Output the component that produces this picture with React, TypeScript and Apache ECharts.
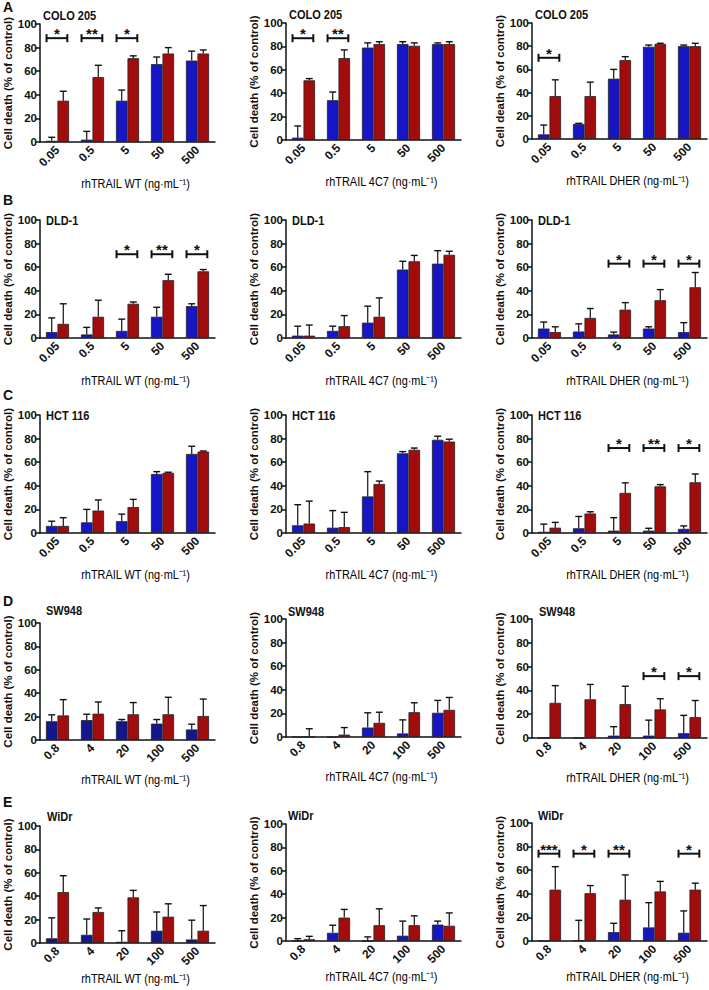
import React, { useEffect, useRef } from "react";
import * as echarts from "echarts";

// ---------- categories ----------
const catsLow = ["0.05", "0.5", "5", "50", "500"];
const catsHigh = ["0.8", "4", "20", "100", "500"];

// ---------- titles ----------
const cellLines = ["COLO 205", "DLD-1", "HCT 116", "SW948", "WiDr"];
const xNames = ["rhTRAIL WT (ng·mL⁻¹)", "rhTRAIL 4C7 (ng·mL⁻¹)", "rhTRAIL DHER (ng·mL⁻¹)"];
const rowLetters = ["A", "B", "C", "D", "E"];
const yName = "Cell death (% of control)";

// ---------- data (mean, SD) ----------
// Row A: COLO 205
const a1Blue = [1, 2, 35, 66, 69];
const a1BlueSD = [3, 7, 9, 6, 8];
const a1Red = [35, 55, 71, 75, 75];
const a1RedSD = [8, 10, 2, 5, 3];
const a2Blue = [2, 34, 79, 82, 82];
const a2BlueSD = [10, 7, 4, 2, 1];
const a2Red = [51, 70, 82, 80.5, 82];
const a2RedSD = [1.5, 7, 2, 2.5, 2];
const a3Blue = [4, 13, 52, 79.5, 80];
const a3BlueSD = [8, 0.5, 8, 1.5, 1];
const a3Red = [37, 37, 68, 82, 80];
const a3RedSD = [14, 12, 3, 0.5, 2.5];
// Row B: DLD-1
const b1Blue = [5, 3, 6, 18, 27];
const b1BlueSD = [12, 6, 10, 8, 2];
const b1Red = [12, 18, 29, 49, 56.5];
const b1RedSD = [17, 14, 1.5, 5, 1.5];
const b2Blue = [2, 6, 13, 58, 63];
const b2BlueSD = [8, 4, 14, 7, 11];
const b2Red = [2, 10, 18, 65, 70.5];
const b2RedSD = [9, 9, 16, 5, 3];
const b3Blue = [8, 5.5, 3, 8, 5];
const b3BlueSD = [5.5, 6.5, 2, 1.5, 8];
const b3Red = [5, 17, 24, 32, 43];
const b3RedSD = [4.5, 8, 6, 9, 12.5];
// Row C: HCT 116
const c1Blue = [6, 9, 10, 50, 67];
const c1BlueSD = [4, 11, 6, 2, 6.5];
const c1Red = [6, 19, 22, 51, 69];
const c1RedSD = [7, 9, 6.5, 0.5, 0.5];
const c2Blue = [6.5, 4.5, 31, 67.5, 79];
const c2BlueSD = [17.5, 14.5, 21, 1.5, 3];
const c2Red = [8, 5, 41.5, 70.5, 77.5];
const c2RedSD = [19, 12.5, 2.5, 1.5, 2];
const c3Blue = [1, 4, 2, 2, 3.5];
const c3BlueSD = [6.5, 10, 11, 2, 2.5];
const c3Red = [4.5, 16.5, 34, 39.5, 43];
const c3RedSD = [4.5, 1.5, 8.5, 1.5, 7];
// Row D: SW948
const d1Blue = [16, 17, 16, 14, 9];
const d1BlueSD = [5.5, 5, 1.5, 3.5, 4.5];
const d1Red = [21, 22.5, 22, 22, 20.5];
const d1RedSD = [13.5, 10, 10, 14.5, 14.5];
const d2Blue = [0, 0, 8, 3, 20.5];
const d2BlueSD = [0, 0, 12.5, 11.5, 10.5];
const d2Red = [0, 2, 12, 21, 23];
const d2RedSD = [7, 6, 9, 8, 10.5];
const d3Blue = [0, 0, 2, 2, 4];
const d3BlueSD = [0, 0, 7.5, 13, 15];
const d3Red = [29.5, 32.5, 28.5, 24, 17.5];
const d3RedSD = [14.5, 12.5, 15, 9, 14];
// Row E: WiDr
const e1Blue = [4, 7, 1, 10.5, 3];
const e1BlueSD = [17.5, 13.5, 9.5, 16, 16.5];
const e1Red = [43.5, 26.5, 39, 22.5, 10.5];
const e1RedSD = [14, 3.5, 6, 11, 21.5];
const e2Blue = [0, 7, 0, 4.5, 14];
const e2BlueSD = [2, 6.5, 3.5, 12.5, 3];
const e2Red = [1.5, 20, 13.5, 13.5, 13];
const e2RedSD = [2.5, 7, 14, 8, 11];
const e3Blue = [0, 0.5, 7.5, 11.5, 7];
const e3BlueSD = [0, 17, 7.5, 21, 18.5];
const e3Red = [43.5, 40.5, 35, 42, 43.5];
const e3RedSD = [19.5, 6.5, 21, 8.5, 5.5];

// ---------- significance: [category index, stars, bracket height] ----------
const a1Sig: [number, string, number][] = [[0, "*", 88], [1, "**", 88], [2, "*", 88]];
const a2Sig: [number, string, number][] = [[0, "*", 87], [1, "**", 87]];
const a3Sig: [number, string, number][] = [[0, "*", 70]];
const b1Sig: [number, string, number][] = [[2, "*", 71], [3, "**", 71], [4, "*", 71]];
const b3Sig: [number, string, number][] = [[2, "*", 63], [3, "*", 63], [4, "*", 63]];
const c3Sig: [number, string, number][] = [[2, "*", 72], [3, "**", 72], [4, "*", 72]];
const d3Sig: [number, string, number][] = [[3, "*", 52], [4, "*", 52]];
const e3Sig: [number, string, number][] = [[0, "***", 74], [1, "*", 74], [2, "**", 74], [4, "*", 74]];

type Panel = {
  row: number; col: number; cats: string[];
  blue: number[]; blueSD: number[]; red: number[]; redSD: number[];
  sig: [number, string, number][]; navy?: boolean;
};

const panels: Panel[] = [
  { row: 0, col: 0, cats: catsLow, blue: a1Blue, blueSD: a1BlueSD, red: a1Red, redSD: a1RedSD, sig: a1Sig },
  { row: 0, col: 1, cats: catsLow, blue: a2Blue, blueSD: a2BlueSD, red: a2Red, redSD: a2RedSD, sig: a2Sig },
  { row: 0, col: 2, cats: catsLow, blue: a3Blue, blueSD: a3BlueSD, red: a3Red, redSD: a3RedSD, sig: a3Sig },
  { row: 1, col: 0, cats: catsLow, blue: b1Blue, blueSD: b1BlueSD, red: b1Red, redSD: b1RedSD, sig: b1Sig },
  { row: 1, col: 1, cats: catsLow, blue: b2Blue, blueSD: b2BlueSD, red: b2Red, redSD: b2RedSD, sig: [] },
  { row: 1, col: 2, cats: catsLow, blue: b3Blue, blueSD: b3BlueSD, red: b3Red, redSD: b3RedSD, sig: b3Sig },
  { row: 2, col: 0, cats: catsLow, blue: c1Blue, blueSD: c1BlueSD, red: c1Red, redSD: c1RedSD, sig: [] },
  { row: 2, col: 1, cats: catsLow, blue: c2Blue, blueSD: c2BlueSD, red: c2Red, redSD: c2RedSD, sig: [] },
  { row: 2, col: 2, cats: catsLow, blue: c3Blue, blueSD: c3BlueSD, red: c3Red, redSD: c3RedSD, sig: c3Sig },
  { row: 3, col: 0, cats: catsHigh, blue: d1Blue, blueSD: d1BlueSD, red: d1Red, redSD: d1RedSD, sig: [], navy: true },
  { row: 3, col: 1, cats: catsHigh, blue: d2Blue, blueSD: d2BlueSD, red: d2Red, redSD: d2RedSD, sig: [] },
  { row: 3, col: 2, cats: catsHigh, blue: d3Blue, blueSD: d3BlueSD, red: d3Red, redSD: d3RedSD, sig: d3Sig },
  { row: 4, col: 0, cats: catsHigh, blue: e1Blue, blueSD: e1BlueSD, red: e1Red, redSD: e1RedSD, sig: [], navy: true },
  { row: 4, col: 1, cats: catsHigh, blue: e2Blue, blueSD: e2BlueSD, red: e2Red, redSD: e2RedSD, sig: [] },
  { row: 4, col: 2, cats: catsHigh, blue: e3Blue, blueSD: e3BlueSD, red: e3Red, redSD: e3RedSD, sig: e3Sig },
];

// ---------- layout ----------
const colLeft = [40, 286, 532];
const plotWidth = 175;
// [top(100), bottom(0)] per row / col
const rowBox = [
  [[24, 142], [23, 140], [23, 139]],
  [[220, 338], [220, 338], [220, 338]],
  [[415, 533], [415, 533], [415, 533]],
  [[623, 740], [619, 737], [619, 738]],
  [[826, 943], [824, 941], [823, 941]],
];
// distance from x axis to centre of x-axis title, per row
const xTitleGap = [42, 43, 42, 40, 36];
// panel title offsets [dx from axis, dy (centre) from top]
const titleOff = [
  [[3, -9], [3, -9], [3, -9]],
  [[6, 0], [6, 0], [6, 0]],
  [[6, 0], [6, 0], [6, 0]],
  [[6, -13], [2, -8], [7, -8]],
  [[7, -10], [2, -9], [6, -8]],
];
const letterTop = [0, 193, 388, 594, 795];

const BW = 0.33;
const BLUE = "#1616c6";
const NAVY = "#14168c";
const RED = "#a30c0c";
const INK = "#111111";
const SANS = "'Liberation Sans', Arial, sans-serif";

function errRender(params: any, api: any) {
  const ci = api.value(0);
  const v = api.value(1);
  const sd = api.value(2);
  const sgn = api.value(3);
  if (!(sd > 0)) return { type: "group", children: [] };
  const band = api.size([1, 0])[0];
  const bw = band * BW;
  const x = api.coord([ci, 0])[0] + (sgn * bw) / 2;
  const yTop = api.coord([ci, v])[1];
  const yEnd = api.coord([ci, v + sd])[1];
  const cap = bw * 0.3;
  return {
    type: "group",
    children: [
      { type: "line", shape: { x1: x, y1: yTop, x2: x, y2: yEnd }, style: { stroke: INK, lineWidth: 1.2 } },
      { type: "line", shape: { x1: x - cap, y1: yEnd, x2: x + cap, y2: yEnd }, style: { stroke: INK, lineWidth: 1.4 } },
    ],
  };
}

function sigRenderFactory(sig: [number, string, number][]) {
  return (params: any, api: any) => {
    const s = sig[params.dataIndex];
    const band = api.size([1, 0])[0];
    const bw = band * BW;
    const p = api.coord([s[0], s[2]]);
    const x1 = p[0] - bw * 0.95;
    const x2 = p[0] + bw * 0.85;
    const y = p[1];
    return {
      type: "group",
      children: [
        { type: "line", shape: { x1, y1: y, x2, y2: y }, style: { stroke: INK, lineWidth: 2 } },
        { type: "line", shape: { x1, y1: y - 4, x2: x1, y2: y + 4 }, style: { stroke: INK, lineWidth: 2 } },
        { type: "line", shape: { x1: x2, y1: y - 4, x2, y2: y + 4 }, style: { stroke: INK, lineWidth: 2 } },
        {
          type: "text",
          style: {
            text: s[1], x: (x1 + x2) / 2, y: y + 3, align: "center", verticalAlign: "bottom",
            fontSize: 15, fontWeight: "bold", fontFamily: SANS, fill: INK,
          },
        },
      ],
    };
  };
}

export default function App() {
  const ref = useRef<HTMLDivElement>(null);
  useEffect(() => {
    if (!ref.current) return;
    const chart = echarts.init(ref.current, undefined, { renderer: "svg" });
    const grid: any[] = [];
    const xAxis: any[] = [];
    const yAxis: any[] = [];
    const series: any[] = [];
    const graphic: any[] = [];

    panels.forEach((p, i) => {
      const [top, bottom] = rowBox[p.row][p.col];
      const left = colLeft[p.col];
      grid.push({ left, top, width: plotWidth, height: bottom - top });
      xAxis.push({
        gridIndex: i, type: "category", data: p.cats,
        axisLine: { lineStyle: { color: INK, width: 1.5 } },
        axisTick: { show: false },
        axisLabel: { rotate: 45, fontSize: 12, fontWeight: "bold", color: INK, margin: 6, fontFamily: SANS, interval: 0 },
      });
      yAxis.push({
        gridIndex: i, type: "value", min: 0, max: 100, interval: 20,
        axisLine: { show: true, lineStyle: { color: INK, width: 1.5 } },
        axisTick: { show: true, length: 4, lineStyle: { color: INK, width: 1.5 } },
        splitLine: { show: false },
        axisLabel: { fontSize: 11.5, fontWeight: "bold", color: INK, margin: 3, fontFamily: SANS },
        name: yName, nameLocation: "middle", nameGap: 26,
        nameTextStyle: { fontSize: 11.5, fontWeight: "bold", color: INK, fontFamily: SANS },
      });
      const common = {
        type: "bar", xAxisIndex: i, yAxisIndex: i, barWidth: BW * 100 + "%", barGap: "0%",
      };
      series.push({
        ...common, name: "blue" + i, data: p.blue,
        itemStyle: { color: p.navy ? NAVY : BLUE, borderColor: "#222", borderWidth: 0.8 },
      });
      series.push({
        ...common, name: "red" + i, data: p.red,
        itemStyle: { color: RED, borderColor: "#222", borderWidth: 0.8 },
      });
      const errData = p.blue.map((v, k) => [k, v, p.blueSD[k], -1]).concat(p.red.map((v, k) => [k, v, p.redSD[k], 1]));
      series.push({
        type: "custom", xAxisIndex: i, yAxisIndex: i, renderItem: errRender, data: errData,
        encode: { x: 0, y: 1 }, z: 5,
      });
      if (p.sig.length) {
        series.push({
          type: "custom", xAxisIndex: i, yAxisIndex: i, renderItem: sigRenderFactory(p.sig),
          data: p.sig.map((s) => [s[0], s[2]]), encode: { x: 0, y: 1 }, z: 6,
        });
      }
      const off = titleOff[p.row][p.col];
      graphic.push({
        type: "text", x: left + off[0], y: top + off[1], scaleX: 0.88,
        style: { text: cellLines[p.row], x: 0, y: 0, align: "left", verticalAlign: "middle", fontSize: 12.5, fontWeight: "bold", fontFamily: SANS, fill: INK },
      });
      graphic.push({
        type: "text", x: left + plotWidth / 2 + 8, y: bottom + xTitleGap[p.row], scaleX: 0.84,
        style: { text: xNames[p.col], x: 0, y: 0, align: "center", verticalAlign: "middle", fontSize: 13, fontFamily: SANS, fill: "#000" },
      });
    });

    rowLetters.forEach((L, r) => {
      graphic.push({
        type: "text", left: 3, top: letterTop[r],
        style: { text: L, fontSize: 14, fontWeight: "bold", fontFamily: SANS, fill: INK },
      });
    });

    chart.setOption({
      animation: false,
      backgroundColor: "#ffffff",
      grid, xAxis, yAxis, series, graphic,
    });
    return () => chart.dispose();
  }, []);

  return <div ref={ref} style={{ position: "absolute", left: 0, top: 0, width: 709, height: 990 }} />;
}
